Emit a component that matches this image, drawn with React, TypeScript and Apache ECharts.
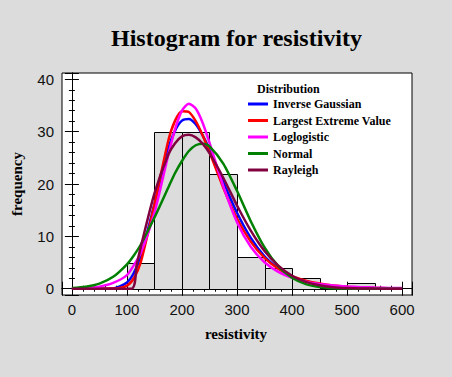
import React, { useEffect, useRef } from 'react';
import * as echarts from 'echarts';

// Histogram bins (start of each 50-wide bin) and counts
const binStarts = [100, 150, 200, 250, 300, 350, 400, 450, 500];
const binWidth = 50;
const binCounts = [5, 30, 30, 22, 6, 4, 2, 0, 1];

// Fitted curves (frequency scale)
const curveX = [0, 25, 50, 75, 100, 112.5, 125, 150, 175, 187.5, 200, 212.5, 225, 237.5, 250, 275, 300, 325, 350, 375, 400, 425, 450, 475, 500, 525, 550, 575, 600];
const inverseGaussian = [0, 0, 0, 0.05, 1.2, 3.0, 6.2, 16.2, 26.7, 30.2, 32.1, 32.4, 31.4, 29.3, 26.6, 20.4, 14.5, 9.7, 6.2, 3.9, 2.3, 1.4, 0.8, 0.45, 0.26, 0.15, 0.08, 0.04, 0.02];
const largestExtremeValue = [0, 0, 0, 0.02, 0.6, 2.0, 5.0, 16.1, 28.2, 32.1, 33.9, 33.75, 32.0, 29.3, 26.1, 19.3, 13.4, 9.0, 5.9, 3.8, 2.4, 1.55, 0.98, 0.62, 0.39, 0.25, 0.16, 0.1, 0.06];
const loglogistic = [0, 0.1, 0.4, 1.1, 2.6, 4.5, 6.8, 14.5, 25.5, 30.5, 34.0, 35.35, 34.4, 31.7, 27.9, 19.6, 12.7, 8.0, 5.05, 3.2, 2.07, 1.36, 0.91, 0.62, 0.43, 0.3, 0.22, 0.16, 0.12];
const normal = [0.13, 0.38, 0.98, 2.27, 4.66, 6.36, 8.4, 13.6, 19.3, 22.1, 24.4, 26.3, 27.4, 27.7, 27.2, 23.9, 18.7, 12.9, 7.9, 4.3, 2.08, 0.88, 0.33, 0.11, 0.03, 0.01, 0, 0, 0];
const rayleighX = [0, 108, 118, 125, 150, 175, 187.5, 200, 212.5, 225, 237.5, 250, 275, 300, 325, 350, 375, 400, 425, 450, 475, 500, 525, 550, 575, 600];
const rayleigh = [0, 0, 4.7, 7.9, 18.2, 25.6, 27.8, 29.1, 29.4, 28.9, 27.7, 25.9, 21.2, 15.9, 11.1, 7.2, 4.4, 2.47, 1.31, 0.65, 0.3, 0.13, 0.05, 0.02, 0.01, 0];

const seriesNames = ['Inverse Gaussian', 'Largest Extreme Value', 'Loglogistic', 'Normal', 'Rayleigh'];
const seriesColors = ['#0000ff', '#ff0000', '#ff00ff', '#008000', '#800040'];

const BG = '#dcdcdc';
const SERIF = '"Liberation Serif", "Times New Roman", serif';
const SANS = '"Liberation Sans", Arial, sans-serif';

export default function App() {
  const ref = useRef<HTMLDivElement>(null);

  useEffect(() => {
    if (!ref.current) return;
    const chart = echarts.init(ref.current, undefined, { renderer: 'svg' });

    const curveData = [
      curveX.map((x, i) => [x, inverseGaussian[i]]),
      curveX.map((x, i) => [x, largestExtremeValue[i]]),
      curveX.map((x, i) => [x, loglogistic[i]]),
      curveX.map((x, i) => [x, normal[i]]),
      rayleighX.map((x, i) => [x, rayleigh[i]]),
    ];

    const tickCommon = {
      axisLine: { show: true, lineStyle: { color: '#000', width: 1 } },
      axisTick: { show: true, inside: true, length: 7, lineStyle: { color: '#000', width: 1 } },
      minorTick: { show: true, splitNumber: 5, length: 3, lineStyle: { color: '#000', width: 1 } },
      splitLine: { show: false },
      minorSplitLine: { show: false },
    };

    const xBase = { type: 'value', min: -18, max: 618, splitNumber: 6, ...tickCommon };
    const yBase = { type: 'value', min: -1.2, max: 41.2, splitNumber: 4, ...tickCommon };

    const option: any = {
      animation: false,
      backgroundColor: BG,
      grid: {
        left: 62, top: 73, right: 40, bottom: 82,
        show: true, backgroundColor: '#fff', borderColor: '#000', borderWidth: 1,
        containLabel: false,
      },
      xAxis: [
        {
          ...xBase, position: 'bottom',
          axisLabel: { show: true, showMinLabel: false, showMaxLabel: false, margin: 7, fontSize: 15, fontFamily: SANS, color: '#111' },
        },
        { ...xBase, position: 'top', axisLabel: { show: false } },
      ],
      yAxis: [
        {
          ...yBase, position: 'left',
          axisLabel: { show: true, showMinLabel: false, showMaxLabel: false, margin: 8, fontSize: 15, fontFamily: SANS, color: '#111' },
        },
        { ...yBase, position: 'right', axisLabel: { show: false } },
      ],
      legend: {
        show: true,
        orient: 'vertical',
        left: 248, top: 98,
        padding: 0,
        itemWidth: 20, itemHeight: 3, itemGap: 4.5,
        data: seriesNames.map((name) => ({ name, icon: 'rect' })),
        textStyle: { fontFamily: SERIF, fontWeight: 'bold', fontSize: 12, color: '#000', lineHeight: 12 },
        selectedMode: false,
      },
      graphic: [
        {
          type: 'text', x: 236.5, y: 38,
          style: { text: 'Histogram for resistivity', fontFamily: SERIF, fontWeight: 'bold', fontSize: 24, fill: '#000', align: 'center', verticalAlign: 'middle' },
        },
        {
          type: 'text', x: 236, y: 334,
          style: { text: 'resistivity', fontFamily: SERIF, fontWeight: 'bold', fontSize: 15, fill: '#000', align: 'center', verticalAlign: 'middle' },
        },
        {
          type: 'text', x: 17, y: 184, rotation: Math.PI / 2,
          style: { text: 'frequency', fontFamily: SERIF, fontWeight: 'bold', fontSize: 15, fill: '#000', align: 'center', verticalAlign: 'middle' },
        },
        {
          type: 'text', x: 257, y: 89, z: 100,
          style: { text: 'Distribution', fontFamily: SERIF, fontWeight: 'bold', fontSize: 12, fill: '#000', align: 'left', verticalAlign: 'middle' },
        },
      ],
      series: [
        {
          type: 'custom',
          name: 'histogram',
          xAxisIndex: 0, yAxisIndex: 0,
          data: binStarts.map((s, i) => [s, s + binWidth, binCounts[i]]),
          encode: { x: [0, 1], y: 2 },
          renderItem: (_params: any, api: any) => {
            const a = api.coord([api.value(0), api.value(2)]);
            const b = api.coord([api.value(1), 0]);
            const x0 = Math.round(a[0]) + 0.5;
            const x1 = Math.round(b[0]) + 0.5;
            const y0 = Math.round(a[1]) + 0.5;
            const y1 = Math.round(b[1]) + 0.5;
            return {
              type: 'rect',
              shape: { x: x0, y: y0, width: x1 - x0, height: y1 - y0 },
              style: { fill: BG, stroke: '#000', lineWidth: 1 },
            };
          },
          z: 1,
        },
        ...seriesNames.map((name, i) => ({
          type: 'line',
          name,
          xAxisIndex: 0, yAxisIndex: 0,
          data: curveData[i],
          symbol: 'none',
          showSymbol: false,
          smooth: 0.25,
          lineStyle: { width: 2.5, color: seriesColors[i] },
          itemStyle: { color: seriesColors[i] },
          z: 3,
        })),
      ],
    };

    chart.setOption(option);
    return () => chart.dispose();
  }, []);

  return (
    <div
      ref={ref}
      style={{ position: 'absolute', left: 0, top: 0, width: '452px', height: '377px' }}
    />
  );
}
